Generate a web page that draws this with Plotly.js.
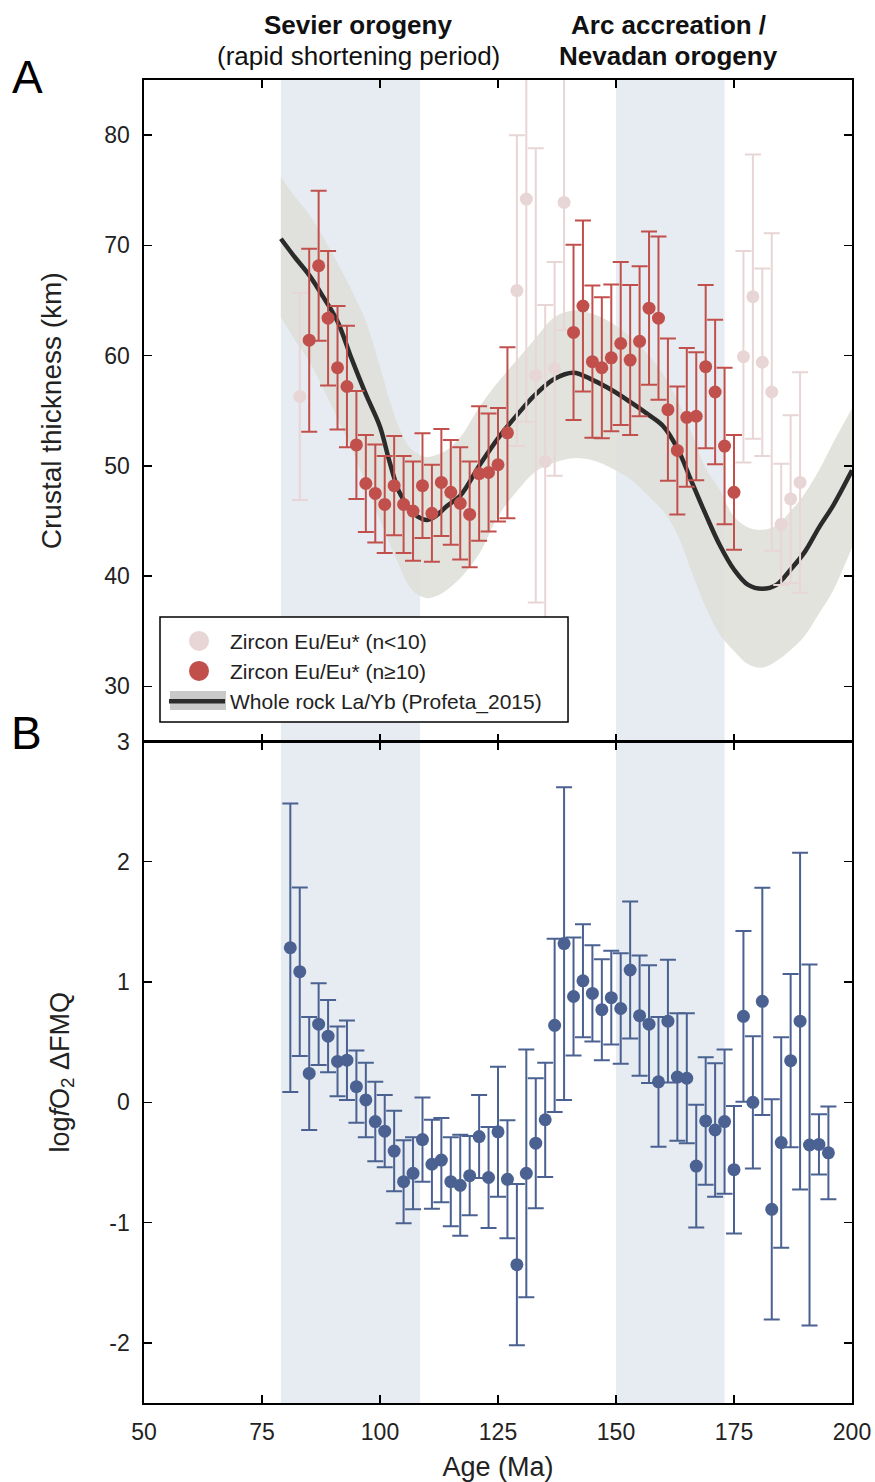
<!DOCTYPE html>
<html><head><meta charset="utf-8">
<script src="https://cdn.plot.ly/plotly-3.0.1.min.js"></script>
<style>html,body{margin:0;padding:0;background:#fff}#chart{width:875px;height:1482px}</style>
</head><body><div id="chart"></div>
<script>
// ---------- Panel A : zircon Eu/Eu* crustal thickness ----------
const ageLow   = [83, 129, 131, 133, 135, 137, 139, 177, 179, 181, 183, 185, 187, 189];
const thickLow = [56.3, 65.9, 74.2, 58.2, 50.4, 58.8, 73.9, 59.9, 65.35, 59.4, 56.7, 44.7, 47.0, 48.5];
const errLow   = [9.4, 14.1, 20.2, 20.6, 14.2, 9.7, 11.6, 9.6, 12.9, 8.5, 14.4, 5.5, 7.6, 10.0];

const ageHigh   = [85, 87, 89, 91, 93, 95, 97, 99, 101, 103, 105, 107, 109, 111, 113, 115, 117, 119, 121, 123, 125, 127,
                   141, 143, 145, 147, 149, 151, 153, 155, 157, 159, 161, 163, 165, 167, 169, 171, 173, 175];
const thickHigh = [61.4, 68.15, 63.4, 58.9, 57.2, 51.9, 48.4, 47.5, 46.5, 48.2, 46.5, 45.9, 48.2, 45.7, 48.5, 47.6, 46.6, 45.6, 49.3, 49.4, 50.1, 53.0,
                   62.1, 64.5, 59.45, 58.9, 59.8, 61.1, 59.6, 61.3, 64.3, 63.4, 55.1, 51.4, 54.4, 54.5, 59.0, 56.7, 51.8, 47.6];
const errHigh   = [8.3, 6.8, 6.1, 5.6, 5.5, 4.9, 4.4, 4.45, 4.4, 4.5, 4.4, 4.5, 4.75, 4.4, 4.85, 4.75, 5.1, 4.8, 6.1, 5.35, 5.15, 7.75,
                   7.95, 7.75, 6.9, 6.4, 6.65, 7.4, 6.8, 6.8, 6.95, 7.4, 6.45, 5.8, 6.3, 5.8, 7.4, 6.55, 7.1, 5.2];

// Whole rock La/Yb (Profeta 2015) curve and its envelope
const curveAge   = [79, 82, 85, 88, 91, 94, 97, 100, 102, 104, 106, 108, 110, 112, 114, 117, 121, 125, 129, 133, 137, 141,
                    145, 149, 153, 157, 160, 163, 166, 169, 172, 175, 178, 181, 184, 187, 190, 193, 196, 200];
const curveMid   = [70.6, 68.9, 67.3, 65.3, 63.1, 59.7, 56.5, 53.55, 50.4, 47.7, 46.3, 45.4, 45.1, 45.5, 46.3, 47.3, 50.0, 52.5, 54.6, 56.5, 57.9, 58.45,
                    57.8, 56.9, 55.8, 54.6, 53.6, 51.6, 48.6, 45.6, 42.8, 40.6, 39.2, 38.85, 39.2, 40.6, 42.2, 44.4, 46.4, 49.6];
const curveUpper = [76.2, 74.4, 72.8, 70.7, 68.4, 65.9, 63.1, 59.0, 56.0, 53.5, 51.8, 51.1, 50.8, 51.0, 51.4, 52.6, 55.3, 57.6, 59.6, 61.6, 63.5, 64.1,
                    63.8, 63.0, 61.7, 60.0, 58.3, 56.0, 53.0, 49.8, 47.8, 45.4, 44.4, 44.2, 44.6, 45.9, 47.5, 49.6, 52.1, 55.2];
const curveLower = [63.5, 61.4, 59.5, 57.0, 54.3, 51.5, 48.4, 45.1, 43.0, 41.0, 39.2, 38.3, 38.0, 38.2, 38.7, 39.8, 42.0, 45.4, 47.7, 49.5, 50.3, 50.7,
                    50.5, 49.8, 48.8, 47.2, 45.9, 43.8, 40.4, 37.2, 34.7, 33.2, 32.0, 31.7, 32.3, 33.3, 34.6, 36.6, 38.7, 42.6];

// ---------- Panel B : log fO2 dFMQ ----------
const ageOx = [81, 83, 85, 87, 89, 91, 93, 95, 97, 99, 101, 103, 105, 107, 109, 111, 113, 115, 117, 119, 121, 123, 125, 127, 129, 131, 133, 135, 137, 139,
               141, 143, 145, 147, 149, 151, 153, 155, 157, 159, 161, 163, 165, 167, 169, 171, 173, 175, 177, 179, 181, 183, 185, 187, 189, 191, 193, 195];
const oxVal = [1.285, 1.086, 0.24, 0.65, 0.55, 0.34, 0.35, 0.13, 0.02, -0.16, -0.24, -0.405, -0.66, -0.59, -0.31, -0.515, -0.48, -0.66, -0.69, -0.61,
               -0.285, -0.625, -0.245, -0.64, -1.35, -0.59, -0.34, -0.145, 0.64, 1.32,
               0.88, 1.01, 0.905, 0.77, 0.87, 0.78, 1.10, 0.72, 0.65, 0.17, 0.675, 0.21, 0.20, -0.53, -0.155, -0.23, -0.16, -0.56,
               0.715, 0.00, 0.84, -0.89, -0.335, 0.346, 0.675, -0.355, -0.35, -0.42];
const oxErr = [1.2, 0.7, 0.47, 0.34, 0.30, 0.29, 0.33, 0.30, 0.31, 0.33, 0.30, 0.335, 0.345, 0.30, 0.35, 0.37, 0.35, 0.37, 0.42, 0.33,
               0.345, 0.42, 0.54, 0.49, 0.67, 1.03, 0.54, 0.475, 0.72, 1.3,
               0.49, 0.47, 0.40, 0.42, 0.39, 0.46, 0.57, 0.50, 0.49, 0.54, 0.51, 0.53, 0.54, 0.51, 0.53, 0.555, 0.60, 0.53,
               0.71, 0.55, 0.945, 0.915, 0.875, 0.72, 1.4, 1.5, 0.25, 0.385];

// Tectonic periods (Ma)
const periodStart = [79, 150];
const periodEnd   = [108.5, 173];

const xTicks = [50, 75, 100, 125, 150, 175, 200];
const yTicksA = [30, 40, 50, 60, 70, 80];
const yTicksB = [-2, -1, 0, 1, 2, 3];

const FONT = 'Liberation Sans, Arial, Helvetica, sans-serif';
const RED = '#c1504c', PINK = '#e8d5d6', BLUE = '#4a6191', BANDBLUE = '#e6ecf1';
const ENVELOPE = 'rgba(222,222,216,0.85)';

const traces = [
  {x: curveAge, y: curveLower, type: 'scatter', mode: 'lines', line: {width: 0, shape: 'spline'},
   showlegend: false, hoverinfo: 'skip', xaxis: 'x', yaxis: 'y'},
  {x: curveAge, y: curveUpper, type: 'scatter', mode: 'lines', line: {width: 0, shape: 'spline'},
   fill: 'tonexty', fillcolor: ENVELOPE, showlegend: false, hoverinfo: 'skip', xaxis: 'x', yaxis: 'y'},
  {x: curveAge, y: curveMid, type: 'scatter', mode: 'lines', name: 'Whole rock La/Yb (Profeta_2015)',
   line: {color: '#2b2b2b', width: 4.5, shape: 'spline'}, legendrank: 3, xaxis: 'x', yaxis: 'y'},
  {x: ageLow, y: thickLow, type: 'scatter', mode: 'markers', name: 'Zircon Eu/Eu* (n<10)',
   marker: {color: PINK, size: 13}, legendrank: 1,
   error_y: {type: 'data', array: errLow, visible: true, color: PINK, thickness: 2, width: 8},
   xaxis: 'x', yaxis: 'y'},
  {x: ageHigh, y: thickHigh, type: 'scatter', mode: 'markers', name: 'Zircon Eu/Eu* (n≥10)',
   marker: {color: RED, size: 13}, legendrank: 2,
   error_y: {type: 'data', array: errHigh, visible: true, color: RED, thickness: 2, width: 8},
   xaxis: 'x', yaxis: 'y'},
  {x: ageOx, y: oxVal, type: 'scatter', mode: 'markers', showlegend: false,
   marker: {color: BLUE, size: 13},
   error_y: {type: 'data', array: oxErr, visible: true, color: BLUE, thickness: 2, width: 8},
   xaxis: 'x2', yaxis: 'y2'}
];

const shapes = periodStart.map((s, i) => ({
  type: 'rect', xref: 'x', yref: 'paper', x0: s, x1: periodEnd[i], y0: 0, y1: 1,
  fillcolor: BANDBLUE, line: {width: 0}, layer: 'below'
}));
// legend frame (white box, black border) and enlarged legend swatches drawn under the legend symbols
shapes.push({type: 'rect', xref: 'paper', yref: 'paper', x0: 0.0226, x1: 0.5989, y0: 0.5147, y1: 0.5941,
  fillcolor: '#ffffff', line: {color: '#000', width: 1.5}, layer: 'above'});
shapes.push({type: 'rect', xref: 'paper', yref: 'paper', x0: 0.0367, x1: 0.1158, y0: 0.5238, y1: 0.5382,
  fillcolor: '#c9c9c9', line: {width: 0}, layer: 'above'});
shapes.push({type: 'circle', xref: 'paper', yref: 'paper', x0: 0.0636, x1: 0.0918, y0: 0.5684, y1: 0.5836,
  fillcolor: PINK, line: {width: 0}, layer: 'above'});
shapes.push({type: 'circle', xref: 'paper', yref: 'paper', x0: 0.0636, x1: 0.0918, y0: 0.5457, y1: 0.5609,
  fillcolor: RED, line: {width: 0}, layer: 'above'});

const axisCommon = {
  showline: true, linecolor: '#000', linewidth: 1.6, mirror: 'ticks',
  ticks: 'inside', ticklen: 8, tickwidth: 1.4, tickcolor: '#000',
  showgrid: false, zeroline: false,
  tickfont: {family: FONT, size: 23, color: '#222'}
};

const layout = {
  width: 875, height: 1482,
  margin: {l: 144, r: 23, t: 80, b: 79},
  paper_bgcolor: '#fff', plot_bgcolor: 'rgba(0,0,0,0)',
  font: {family: FONT, color: '#222'},
  showlegend: true,
  legend: {x: 0.0283, y: 0.5915, xanchor: 'left', yanchor: 'top', traceorder: 'normal',
           bgcolor: 'rgba(0,0,0,0)', borderwidth: 0,
           font: {family: FONT, size: 21, color: '#222'}, itemwidth: 56},
  xaxis: Object.assign({}, axisCommon, {domain: [0, 1], anchor: 'y', range: [50, 200],
    tickvals: xTicks, showticklabels: false, matches: 'x2'}),
  yaxis: Object.assign({}, axisCommon, {domain: [0.5, 1], anchor: 'x', range: [25, 85],
    tickvals: yTicksA, ticktext: yTicksA.map(String), ticklabelstandoff: 8,
    title: {text: 'Crustal thickness (km)', font: {family: FONT, size: 28, color: '#222'}, standoff: 34}}),
  xaxis2: Object.assign({}, axisCommon, {domain: [0, 1], anchor: 'y2', range: [50, 200],
    tickvals: xTicks, ticktext: xTicks.map(String), ticklabelstandoff: 8,
    title: {text: 'Age (Ma)', font: {family: FONT, size: 27, color: '#222'}, standoff: 13}}),
  yaxis2: Object.assign({}, axisCommon, {domain: [0, 0.5], anchor: 'x2', range: [-2.5, 3],
    tickvals: yTicksB, ticktext: yTicksB.map(String), ticklabelstandoff: 8,
    title: {text: 'log<i>f</i>O<sub>2</sub> ΔFMQ', font: {family: FONT, size: 27, color: '#222'}, standoff: 32}}),
  shapes: shapes,
  annotations: [
    {text: '<b>Sevier orogeny</b>', xref: 'paper', yref: 'paper', x: 0.3023, y: 1, xanchor: 'center', yanchor: 'middle',
     yshift: 55, showarrow: false, font: {family: FONT, size: 26, color: '#111'}},
    {text: '(rapid shortening period)', xref: 'paper', yref: 'paper', x: 0.3023, y: 1, xanchor: 'center', yanchor: 'middle',
     yshift: 24, showarrow: false, font: {family: FONT, size: 26, color: '#111'}},
    {text: '<b>Arc accreation /</b>', xref: 'paper', yref: 'paper', x: 0.7415, y: 1, xanchor: 'center', yanchor: 'middle',
     yshift: 55, showarrow: false, font: {family: FONT, size: 26, color: '#111'}},
    {text: '<b>Nevadan orogeny</b>', xref: 'paper', yref: 'paper', x: 0.7415, y: 1, xanchor: 'center', yanchor: 'middle',
     yshift: 24, showarrow: false, font: {family: FONT, size: 26, color: '#111'}},
    {text: 'A', xref: 'paper', yref: 'paper', x: 0, y: 1, xanchor: 'center', yanchor: 'middle',
     xshift: -117, yshift: 3, showarrow: false, font: {family: FONT, size: 46, color: '#000'}},
    {text: 'B', xref: 'paper', yref: 'paper', x: 0, y: 0.5, xanchor: 'center', yanchor: 'middle',
     xshift: -118, yshift: 9, showarrow: false, font: {family: FONT, size: 46, color: '#000'}}
  ]
};

Plotly.newPlot('chart', traces, layout, {displayModeBar: false, staticPlot: true});
</script></body></html>
